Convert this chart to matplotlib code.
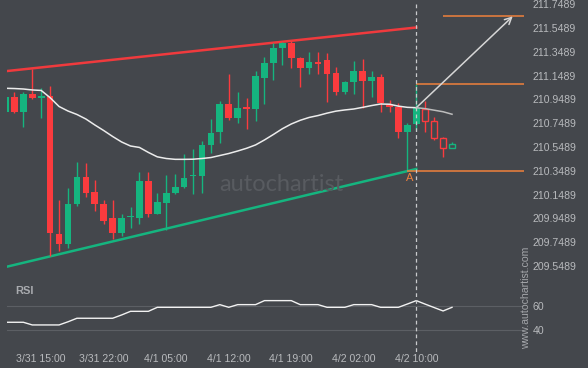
import matplotlib
matplotlib.use("Agg")
import matplotlib.pyplot as plt
import numpy as np
from matplotlib.lines import Line2D
from matplotlib.transforms import blended_transform_factory

plt.rcParams['font.family'] = ['Liberation Sans', 'DejaVu Sans']

# hourly candles (index 46 = 4/2 10:00, the breakout bar)
opens = [210.846, 210.970, 210.846, 210.998, 210.964, 210.978, 209.819, 209.737, 210.071, 210.298,
         210.172, 210.071, 209.953, 209.827, 209.958, 209.956, 210.264, 209.989, 210.082, 210.163,
         210.216, 210.302, 210.309, 210.567, 210.676, 210.911, 210.796, 210.878, 210.872, 211.132,
         211.258, 211.384, 211.426, 211.295, 211.216, 211.267, 211.281, 211.172, 211.014, 211.099,
         211.188, 211.107, 211.138, 210.903, 210.886, 210.678, 210.743, 210.872, 210.768, 210.625,
         210.539]
highs = [210.978, 211.009, 211.009, 211.203, 211.043, 211.062, 210.102, 210.205, 210.421, 210.413,
         210.272, 210.104, 210.102, 209.989, 210.046, 210.337, 210.337, 210.161, 210.314, 210.320,
         210.488, 210.533, 210.600, 210.783, 210.939, 211.161, 211.012, 210.959, 211.188, 211.304,
         211.421, 211.435, 211.443, 211.306, 211.346, 211.346, 211.337, 211.225, 211.104, 211.272,
         211.287, 211.188, 211.161, 210.942, 210.917, 210.749, 211.077, 210.939, 210.804, 210.636,
         210.589]
lows = [210.844, 210.833, 210.720, 210.951, 210.791, 209.636, 209.678, 209.704, 210.056, 210.132,
        210.014, 209.903, 209.779, 209.802, 209.869, 209.900, 209.959, 209.985, 209.852, 210.152,
        210.203, 210.155, 210.161, 210.497, 210.586, 210.777, 210.749, 210.701, 210.768, 210.911,
        211.110, 211.236, 211.211, 211.051, 211.161, 211.161, 210.925, 210.987, 210.995, 210.995,
        210.875, 210.967, 210.846, 210.846, 210.628, 210.349, 210.693, 210.678, 210.609, 210.468,
        210.539]
closes = [210.970, 210.846, 210.998, 210.964, 210.978, 209.827, 209.737, 210.071, 210.298, 210.166,
          210.073, 209.930, 209.827, 209.953, 209.964, 210.264, 209.989, 210.088, 210.161, 210.216,
          210.289, 210.306, 210.567, 210.667, 210.911, 210.796, 210.878, 210.872, 211.146, 211.253,
          211.383, 211.426, 211.300, 211.216, 211.267, 211.245, 211.166, 211.014, 211.099, 211.188,
          211.107, 211.138, 210.920, 210.888, 210.678, 210.735, 210.880, 210.771, 210.628, 210.539,
          210.572]
ma = [211.043, 211.041, 211.037, 211.029, 211.025, 210.964, 210.890, 210.852, 210.823, 210.785,
      210.735, 210.688, 210.638, 210.592, 210.558, 210.546, 210.504, 210.467, 210.453, 210.446,
      210.446, 210.447, 210.453, 210.461, 210.478, 210.495, 210.516, 210.539, 210.567, 210.609,
      210.655, 210.703, 210.743, 210.774, 210.798, 210.814, 210.834, 210.851, 210.861, 210.869,
      210.883, 210.898, 210.911, 210.909, 210.893, 210.883, 210.880, 210.872, 210.859, 210.846,
      210.825]
rsi = [46.6, 46.6, 46.6, 44.4, 44.4, 44.4, 44.4, 47.0, 49.9, 49.9,
       49.9, 49.9, 49.9, 52.6, 55.6, 55.6, 55.6, 58.9, 58.9, 58.9,
       58.9, 58.9, 58.9, 58.9, 61.1, 58.9, 61.1, 61.1, 61.1, 64.4,
       64.4, 64.4, 64.4, 61.1, 61.1, 61.1, 58.9, 58.9, 58.9, 61.1,
       61.1, 61.1, 58.9, 58.9, 58.9, 61.6, 64.4, 61.5, 58.7, 55.9,
       58.9]

tick_pos = [4, 11, 18, 25, 32, 39, 46]
tick_labels = ["3/31 15:00", "3/31 22:00", "4/1 05:00", "4/1 12:00",
               "4/1 19:00", "4/2 02:00", "4/2 10:00"]
price_ticks = [209.5489, 209.7489, 209.9489, 210.1489, 210.3489, 210.5489,
               210.7489, 210.9489, 211.1489, 211.3489, 211.5489, 211.7489]

# channel and pattern levels
res_x, res_y = [0.17, 46], [211.188, 211.554]
sup_x, sup_y = [0.17, 46], [209.544, 210.365]
breakout_idx = 46
target_level = 211.648
breakout_level = 211.077
point_a = 210.349

BG = '#44474c'
GREEN = '#15b57f'
RED = '#fb3b3e'
ORANGE = '#f0813c'
TXT = '#b8babd'

W, H = 588, 368
fig = plt.figure(figsize=(W / 100, H / 100), dpi=100)
fig.patch.set_facecolor(BG)
ax = fig.add_axes([7 / W, 1 - 270 / H, 517 / W, 270 / H])
rx = fig.add_axes([7 / W, 1 - 350 / H, 517 / W, 72 / H], sharex=ax)

for a in (ax, rx):
    a.set_facecolor(BG)
    for s in a.spines.values():
        s.set_visible(False)

x = np.arange(len(opens))
o, h, l, c = map(np.array, (opens, highs, lows, closes))
up = c >= o
col = np.where(up, GREEN, RED)
body_lo = np.minimum(o, c)
body_h = np.maximum(np.abs(c - o), 0.012)
solid = x <= breakout_idx

ax.vlines(x, l, h, colors=col, lw=1.0, zorder=2)
ax.bar(x[solid], body_h[solid], bottom=body_lo[solid], width=0.75,
       color=col[solid], linewidth=0, zorder=3)
ax.bar(x[~solid], body_h[~solid], bottom=body_lo[~solid], width=0.7,
       facecolor=BG, edgecolor=col[~solid], linewidth=1.0, zorder=3)

# moving average
ax.plot(x[:breakout_idx + 1], ma[:breakout_idx + 1], color='#ececec', lw=1.1, zorder=4)
ax.plot(x[breakout_idx:], ma[breakout_idx:], color='#bdbdbd', lw=1.1, zorder=4)

# channel lines
ax.plot(res_x, res_y, color='#f03a3d', lw=1.8, zorder=1)
ax.plot(sup_x, sup_y, color=GREEN, lw=1.8, zorder=1)

# pattern levels
xmax = 58.06
ax.hlines(target_level, 49.0, xmax, color=ORANGE, lw=1.1)
ax.hlines(breakout_level, breakout_idx, xmax, color=ORANGE, lw=1.1)
ax.hlines(point_a, 45, xmax, color=ORANGE, lw=1.1)
ax.text(45.3, 210.29, 'A', color=ORANGE, fontsize=8, ha='center', va='center')
ax.annotate('', xy=(56.8, target_level), xytext=(breakout_idx, ma[breakout_idx]),
            arrowprops=dict(arrowstyle='->', color='#d6d6d6', lw=1.1,
                            mutation_scale=12, shrinkA=0, shrinkB=0))

ax.set_xlim(0.17, xmax)
ax.set_ylim(209.516, 211.785)
ax.set_yticks(price_ticks)
ax.set_yticklabels([f"{p:.4f}" for p in price_ticks])
ax.tick_params(axis='y', left=False, labelleft=False, right=True, labelright=True,
               length=0, pad=6, labelcolor=TXT, labelsize=7.6)
ax.tick_params(axis='x', bottom=False, labelbottom=False)

# RSI panel
rx.plot(x, rsi, color='#f2f2f2', lw=1.0)
rx.set_ylim(23.8, 83.0)
rx.set_yticks([40, 60])
rx.grid(axis='y', color='#5c5f64', lw=0.8)
rx.set_xticks(tick_pos)
rx.set_xticklabels(tick_labels)
rx.tick_params(axis='y', left=False, labelleft=False, right=True, labelright=True,
               length=0, pad=6, labelcolor=TXT, labelsize=7.6)
rx.tick_params(axis='x', length=0, pad=3, labelcolor=TXT, labelsize=7.6)
rx.text(8 / 517, 0.82, 'RSI', transform=rx.transAxes, color='#a9abaf',
        fontsize=8, fontweight='bold', va='center')

# dashed marker through both panels
tr = blended_transform_factory(ax.transData, fig.transFigure)
fig.add_artist(Line2D([breakout_idx, breakout_idx], [1 - 4 / H, 1 - 352 / H], transform=tr,
                      color='#c9cacc', lw=0.9, linestyle=(0, (3, 2.5))))

# watermarks
fig.text(281 / W, 1 - 185 / H, 'autochartist', color='#585b60', fontsize=17,
         ha='center', va='center', family='Lato')
fig.text(526 / W, 1 - 298 / H, 'www.autochartist.com', color='#a4a6aa', fontsize=7.6,
         rotation=90, ha='center', va='center')

fig.savefig('out.png', dpi=100, facecolor=BG)
